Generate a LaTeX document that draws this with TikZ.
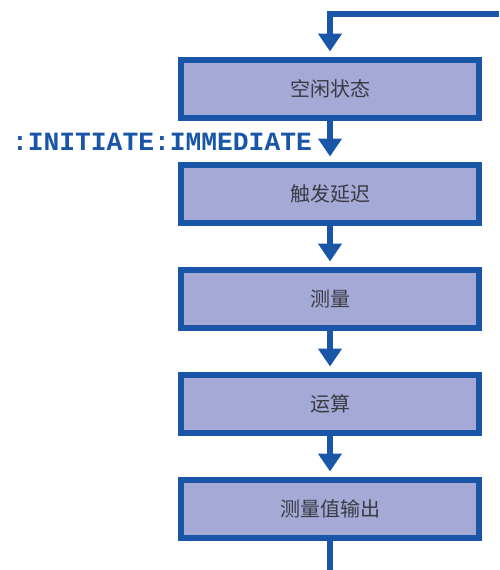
\documentclass[tikz,border=0pt]{standalone}
\usepackage{fontspec}
\newfontfamily\cjk{Noto Sans CJK SC}
\newfontfamily\codefont{Liberation Mono Bold}
\usetikzlibrary{arrows.meta, positioning}
\definecolor{flowblue}{HTML}{1A56A8}
\definecolor{boxfill}{HTML}{A5A9D6}
\definecolor{txtgray}{HTML}{3A3A44}

\begin{document}
\begin{tikzpicture}[
  x=1pt, y=-1pt,
  >={Triangle[length=18pt, width=23pt]},
  stage/.style={
    draw=flowblue, line width=6pt, fill=boxfill,
    minimum width=298pt, minimum height=58pt, font=\cjk\fontsize{20}{23}\selectfont,
    text=txtgray, align=center, inner sep=3pt
  },
  arr/.style={->, line width=5.5pt, flowblue, shorten >=5pt},
  line/.style={line width=5.5pt, flowblue},
  cmd/.style={font=\codefont\fontsize{26.3}{29}\selectfont, text=flowblue},
]

% Canvas
\useasboundingbox (0,0) rectangle (499,570);

% =============================================
% Stages
% =============================================
\node[stage] (idle) at (330,88.5) {空闲状态};
\node[stage, below=41pt of idle] (trig) {触发延迟};
\node[stage, below=41pt of trig] (meas) {测量};
\node[stage, below=41pt of meas] (calc) {运算};
\node[stage, below=41pt of calc] (out) {测量值输出};

% Loop in / out
\coordinate (loop) at (499,14);
\coordinate (exit) at (330,570);

% Arrows
\draw[arr] (loop) -| (idle);
\draw[arr] (idle) -- node[midway, left, xshift=-12pt, yshift=-1pt, cmd] {:INITIATE:IMMEDIATE} (trig);
\draw[arr] (trig) -- (meas);
\draw[arr] (meas) -- (calc);
\draw[arr] (calc) -- (out);
\draw[line] (out) -- (exit);

\end{tikzpicture}
\end{document}
